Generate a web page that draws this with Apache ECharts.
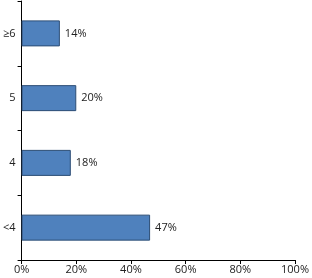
<!DOCTYPE html>
<html><head><meta charset="utf-8">
<script src="https://cdn.jsdelivr.net/npm/echarts@6/dist/echarts.min.js"></script>
<style>html,body{margin:0;padding:0;background:#fff}#c{width:312px;height:278px}</style>
</head><body><div id="c"></div>
<script>
const categories = ['<4', '4', '5', '≥6'];
const values = [47, 18, 20, 14];
const xTicks = [0, 20, 40, 60, 80, 100];

const chart = echarts.init(document.getElementById('c'), null, {renderer: 'canvas'});
chart.setOption({
  animation: false,
  grid: {left: 19, right: 15, top: 1, bottom: 18, containLabel: false},
  xAxis: {
    type: 'value', min: xTicks[0], max: xTicks[xTicks.length - 1], interval: 20,
    axisLine: {show: true, lineStyle: {color: '#000', width: 1}},
    axisTick: {show: true, length: 4, lineStyle: {color: '#000'}},
    splitLine: {show: false},
    axisLabel: {formatter: '{value}%', color: '#222', fontSize: 11, fontFamily: 'Open Sans', margin: 4}
  },
  yAxis: {
    type: 'category', data: categories,
    axisLine: {show: true, lineStyle: {color: '#000', width: 1}},
    axisTick: {show: true, length: 4, lineStyle: {color: '#000'}},
    axisLabel: {color: '#222', fontSize: 11, fontFamily: 'Open Sans', margin: 6}
  },
  series: [{
    type: 'bar', data: values, barWidth: 26,
    itemStyle: {color: '#4f81bd', borderColor: '#2c4d75', borderWidth: 1},
    label: {show: true, position: 'right', formatter: '{c}%', color: '#222', fontSize: 11, fontFamily: 'Open Sans', distance: 5}
  }]
});
</script></body></html>
